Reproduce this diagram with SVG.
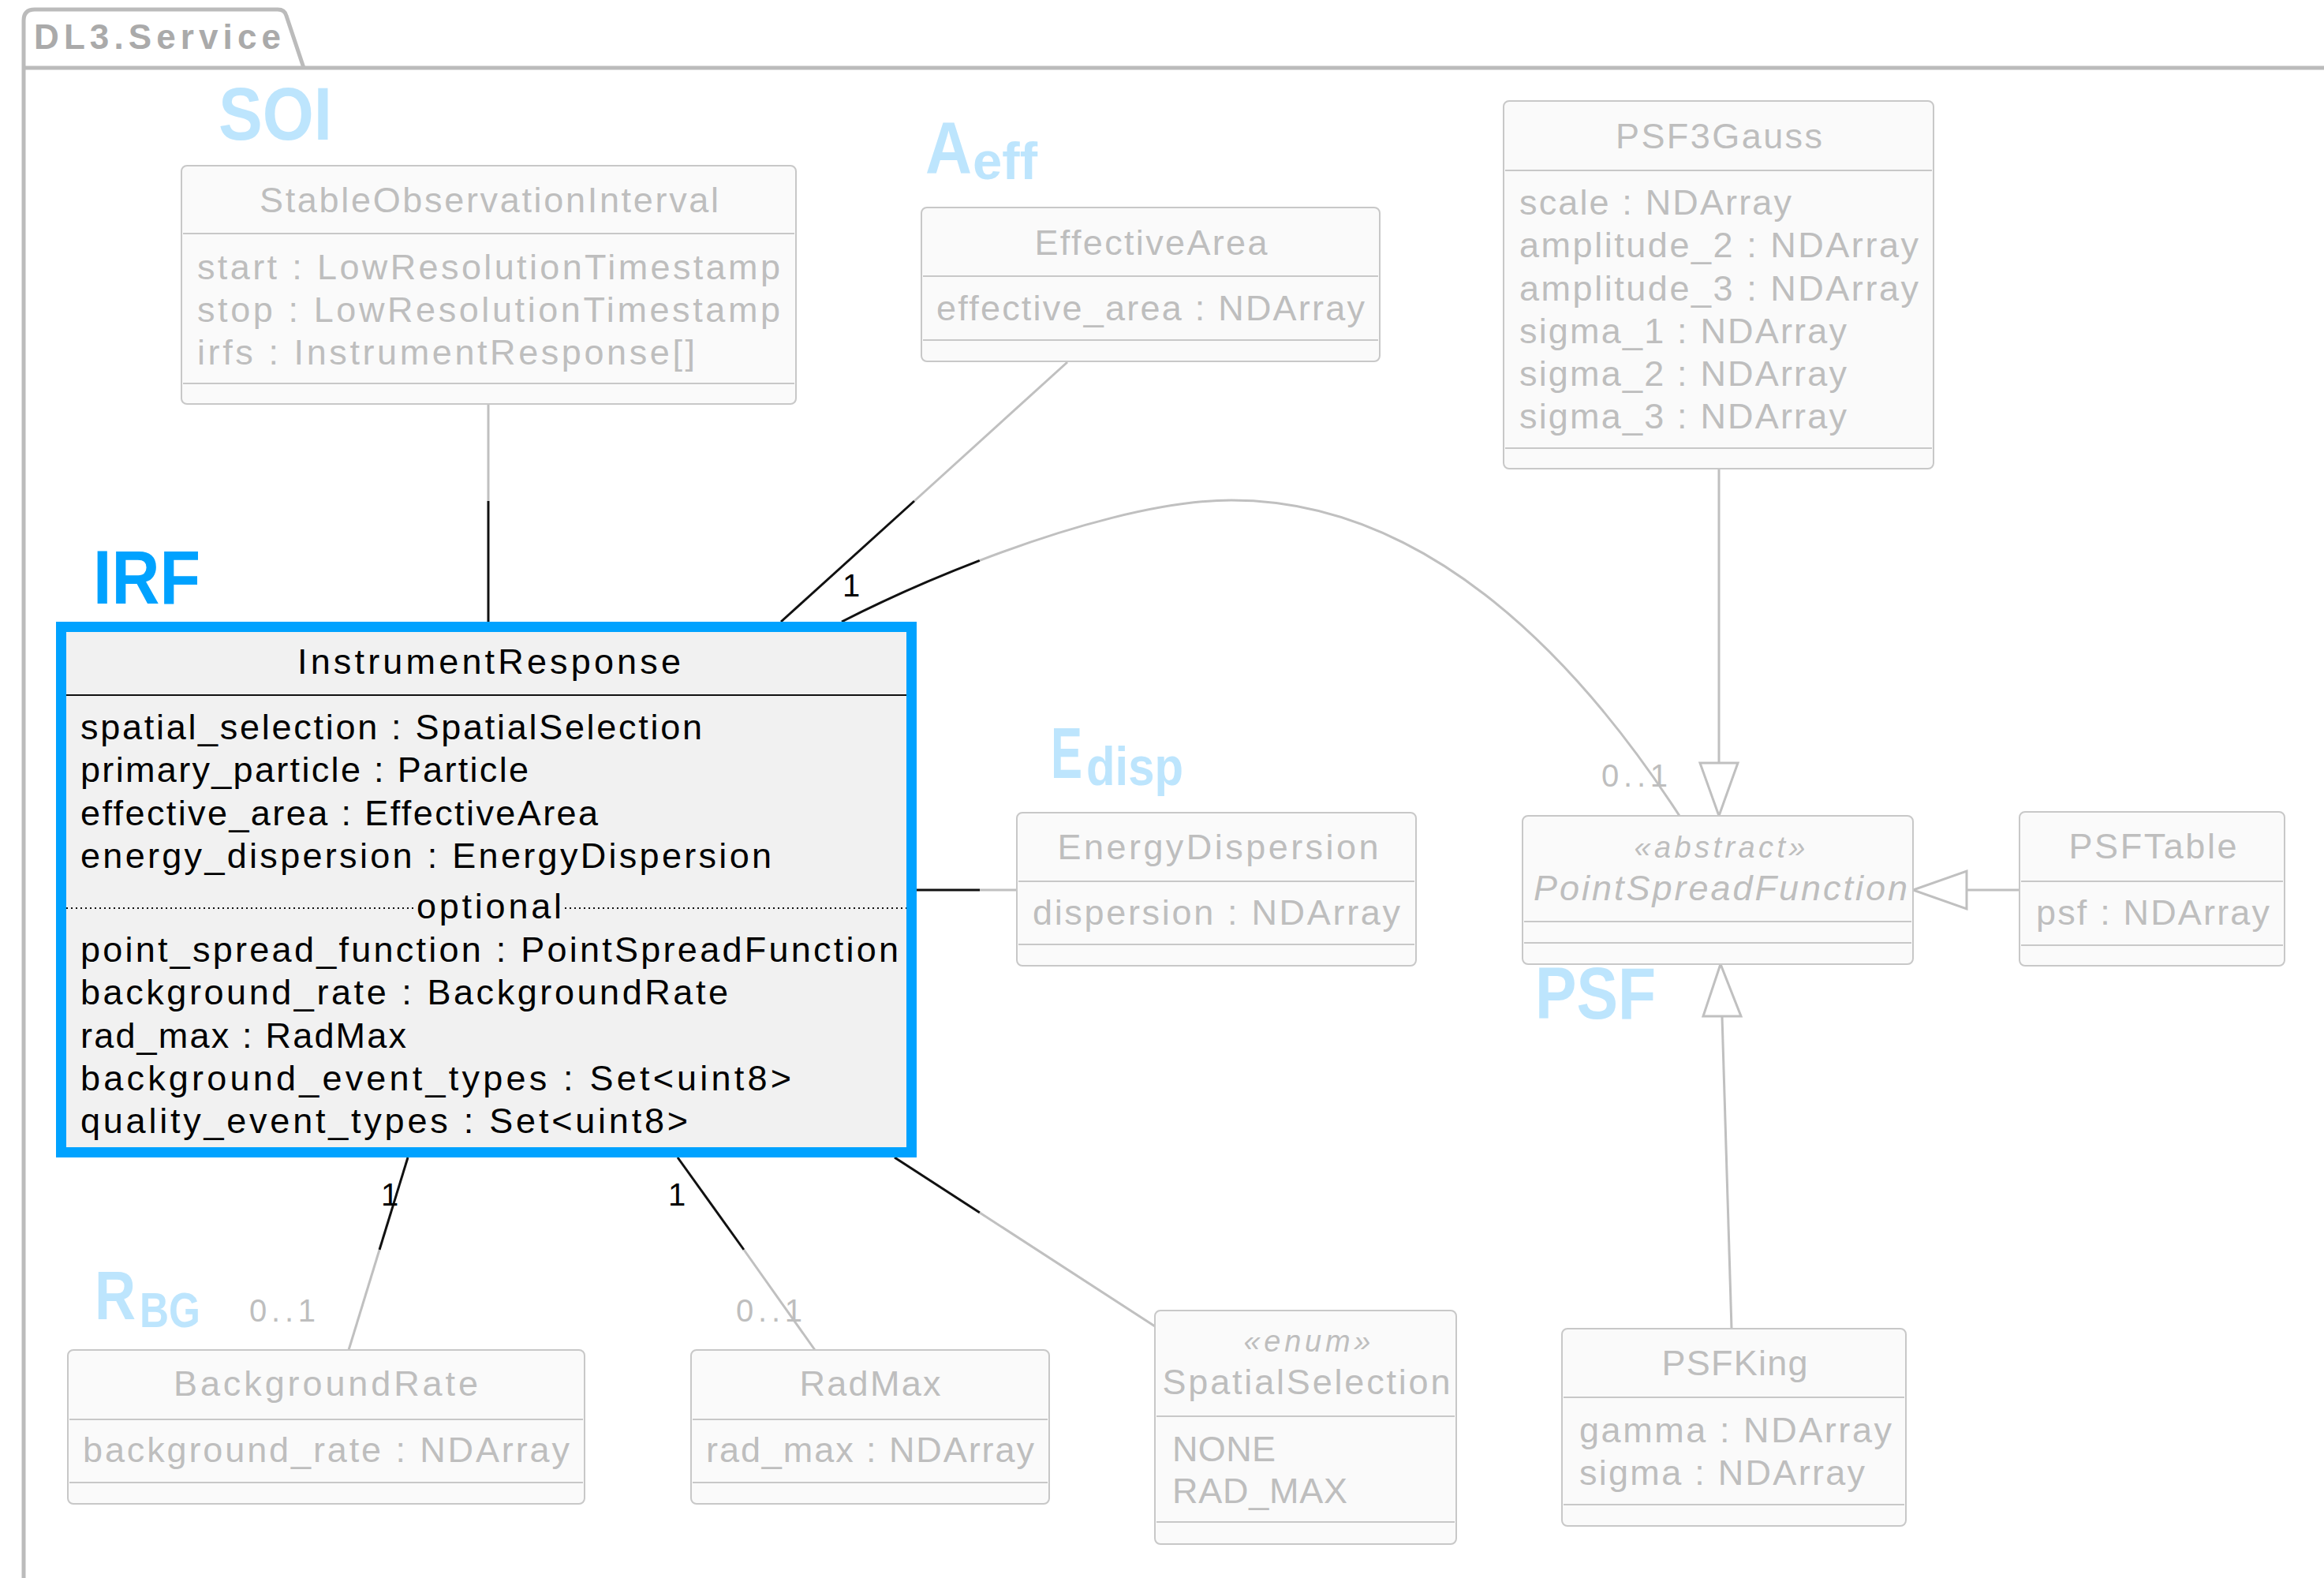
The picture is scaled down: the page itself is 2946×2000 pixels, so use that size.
<svg xmlns="http://www.w3.org/2000/svg" width="2946" height="2000" viewBox="0 0 2946 2000">
  <style>
    .box { fill: #FAFAFA; stroke: #C8C8C8; stroke-width: 2; }
    .sep { stroke: #C8C8C8; stroke-width: 2; }
    .t { font-family: "Liberation Sans", Arial, Helvetica, sans-serif; font-size: 45px; fill: #BEBEBE; }
    .c { text-anchor: middle; }
    .it { font-style: italic; }
    .st { font-size: 38px; }
    .dark { fill: #000000; }
    .lbl { font-family: "Liberation Sans", Arial, Helvetica, sans-serif; font-weight: bold; fill: #BDE5FD; }
    .lblIrf { fill: #00A2FF; }
    .conn { fill: none; stroke: #C0C0C0; stroke-width: 3; }
    .conn-k { fill: none; stroke: #111111; stroke-width: 3; }
    .head { fill: #FFFFFF; stroke: #C0C0C0; stroke-width: 3; stroke-linejoin: miter; }
    .mult { font-family: "Liberation Sans", Arial, Helvetica, sans-serif; font-size: 40px; fill: #BEBEBE; }
    .mult-k { fill: #000000; }
  </style>

  <rect width="2946" height="2000" fill="#FFFFFF"/>

  <!-- package frame DL3.Service -->
  <g id="package">
    <path d="M30,2010 V26 Q30,12 44,12 H352 Q361,12 363,20 L385,86" fill="none" stroke="#BBBBBB" stroke-width="5"/>
    <line x1="30" y1="86" x2="2950" y2="86" stroke="#BBBBBB" stroke-width="5"/>
    <text x="43" y="62" font-family="Liberation Sans, Arial, sans-serif" font-weight="bold" font-size="44" fill="#AAAAAA" textLength="313">DL3.Service</text>
  </g>

  <!-- group labels: condensed capitals drawn with a horizontal scale -->
  <g id="labels">
    <text class="lbl" x="277" y="177" font-size="95" textLength="144" lengthAdjust="spacingAndGlyphs">SOI</text>
    <text class="lbl" transform="translate(1173,219) scale(0.879,1)" font-size="93">A</text>
    <text class="lbl" x="1233" y="227" font-size="66" textLength="82" lengthAdjust="spacingAndGlyphs">eff</text>
    <text class="lbl lblIrf" x="118" y="765" font-size="97" textLength="136" lengthAdjust="spacingAndGlyphs">IRF</text>
    <text class="lbl" transform="translate(1332,986) scale(0.659,1)" font-size="91">E</text>
    <text class="lbl" x="1377" y="995" font-size="68" textLength="123" lengthAdjust="spacingAndGlyphs">disp</text>
    <text class="lbl" x="1946" y="1291" font-size="92" textLength="153" lengthAdjust="spacingAndGlyphs">PSF</text>
    <text class="lbl" transform="translate(120,1672) scale(0.819,1)" font-size="88">R</text>
    <text class="lbl" x="177" y="1682" font-size="63" textLength="77" lengthAdjust="spacingAndGlyphs">BG</text>
  </g>

  <!-- connectors -->
  <g id="connectors">
    <!-- SOI - IRF -->
    <line class="conn" x1="619" y1="512" x2="619" y2="635"/>
    <line class="conn-k" x1="619" y1="635" x2="619" y2="788"/>
    <!-- EffectiveArea - IRF -->
    <line class="conn" x1="1353" y1="459" x2="1159" y2="635"/>
    <line class="conn-k" x1="1159" y1="635" x2="990" y2="788"/>
    <!-- PointSpreadFunction - IRF -->
    <path class="conn-k" d="M1067,788 C1116.2,762.8 1177.3,735.2 1241.9,710.4"/>
    <path class="conn" d="M1241.9,710.4 C1352,668.1 1472.2,634 1561,634 C1800,634 1990,820 2129,1034"/>
    <!-- EnergyDispersion - IRF -->
    <line class="conn-k" x1="1162" y1="1128" x2="1242" y2="1128"/>
    <line class="conn" x1="1242" y1="1128" x2="1289" y2="1128"/>
    <!-- BackgroundRate - IRF -->
    <line class="conn-k" x1="517" y1="1467" x2="481" y2="1584"/>
    <line class="conn" x1="481" y1="1584" x2="442" y2="1711"/>
    <!-- RadMax - IRF -->
    <line class="conn-k" x1="859" y1="1467" x2="943" y2="1584"/>
    <line class="conn" x1="943" y1="1584" x2="1033" y2="1711"/>
    <!-- SpatialSelection - IRF -->
    <line class="conn-k" x1="1134" y1="1467" x2="1242" y2="1537"/>
    <line class="conn" x1="1242" y1="1537" x2="1464" y2="1681"/>
    <!-- generalisations to PointSpreadFunction -->
    <line class="conn" x1="2179" y1="594" x2="2179" y2="967"/>
    <polygon class="head" points="2155,967 2203,967 2179,1034"/>
    <line class="conn" x1="2560" y1="1128" x2="2493" y2="1128"/>
    <polygon class="head" points="2493,1104 2493,1152 2425,1128"/>
    <line class="conn" x1="2195" y1="1684" x2="2183" y2="1288"/>
    <polygon class="head" points="2159,1288 2207,1288 2181,1222"/>
    <!-- multiplicities -->
    <text class="mult mult-k" x="1068" y="756">1</text>
    <text class="mult mult-k" x="483" y="1528">1</text>
    <text class="mult mult-k" x="847" y="1528">1</text>
    <text class="mult" x="316" y="1675" textLength="84">0..1</text>
    <text class="mult" x="933" y="1675" textLength="84">0..1</text>
    <text class="mult" x="2030" y="997" textLength="84">0..1</text>
  </g>

  <!-- StableObservationInterval -->
  <g id="StableObservationInterval">
    <rect class="box" x="230" y="210" width="779" height="302" rx="7"/>
    <line class="sep" x1="232" y1="296" x2="1007" y2="296"/>
    <line class="sep" x1="232" y1="486" x2="1007" y2="486"/>
    <text class="t c" x="620" y="269" textLength="582">StableObservationInterval</text>
    <text class="t" x="250" y="354" textLength="739">start : LowResolutionTimestamp</text>
    <text class="t" x="250" y="408" textLength="739">stop : LowResolutionTimestamp</text>
    <text class="t" x="250" y="462" textLength="631">irfs : InstrumentResponse[]</text>
  </g>

  <!-- EffectiveArea -->
  <g id="EffectiveArea">
    <rect class="box" x="1168" y="263" width="581" height="195" rx="7"/>
    <line class="sep" x1="1170" y1="350" x2="1747" y2="350"/>
    <line class="sep" x1="1170" y1="431" x2="1747" y2="431"/>
    <text class="t c" x="1459" y="323" textLength="295">EffectiveArea</text>
    <text class="t" x="1187" y="406" textLength="543">effective_area : NDArray</text>
  </g>

  <!-- PSF3Gauss -->
  <g id="PSF3Gauss">
    <rect class="box" x="1906" y="128" width="545" height="466" rx="7"/>
    <line class="sep" x1="1908" y1="216" x2="2449" y2="216"/>
    <line class="sep" x1="1908" y1="568" x2="2449" y2="568"/>
    <text class="t c" x="2179" y="188" textLength="262">PSF3Gauss</text>
    <text class="t" x="1926" y="272" textLength="345">scale : NDArray</text>
    <text class="t" x="1926" y="326" textLength="506">amplitude_2 : NDArray</text>
    <text class="t" x="1926" y="381" textLength="506">amplitude_3 : NDArray</text>
    <text class="t" x="1926" y="435" textLength="415">sigma_1 : NDArray</text>
    <text class="t" x="1926" y="489" textLength="415">sigma_2 : NDArray</text>
    <text class="t" x="1926" y="543" textLength="415">sigma_3 : NDArray</text>
  </g>

  <!-- InstrumentResponse -->
  <g id="InstrumentResponse">
    <rect x="77.5" y="794.5" width="1078" height="666" fill="#F1F1F1" stroke="#00A2FF" stroke-width="13"/>
    <line x1="84" y1="881" x2="1149" y2="881" stroke="#111111" stroke-width="2"/>
    <line x1="84" y1="1151" x2="524" y2="1151" stroke="#111111" stroke-width="2" stroke-dasharray="2 4"/>
    <line x1="716" y1="1151" x2="1149" y2="1151" stroke="#111111" stroke-width="2" stroke-dasharray="2 4"/>
    <text class="t c dark" x="620" y="854" textLength="486">InstrumentResponse</text>
    <text class="t dark" x="102" y="937" textLength="788">spatial_selection : SpatialSelection</text>
    <text class="t dark" x="102" y="991" textLength="568">primary_particle : Particle</text>
    <text class="t dark" x="102" y="1046" textLength="656">effective_area : EffectiveArea</text>
    <text class="t dark" x="102" y="1100" textLength="876">energy_dispersion : EnergyDispersion</text>
    <text class="t c dark" x="620" y="1164" textLength="184">optional</text>
    <text class="t dark" x="102" y="1219" textLength="1037">point_spread_function : PointSpreadFunction</text>
    <text class="t dark" x="102" y="1273" textLength="821">background_rate : BackgroundRate</text>
    <text class="t dark" x="102" y="1328" textLength="413">rad_max : RadMax</text>
    <text class="t dark" x="102" y="1382" textLength="901">background_event_types : Set&lt;uint8&gt;</text>
    <text class="t dark" x="102" y="1436" textLength="770">quality_event_types : Set&lt;uint8&gt;</text>
  </g>

  <!-- EnergyDispersion -->
  <g id="EnergyDispersion">
    <rect class="box" x="1289" y="1030" width="506" height="194" rx="7"/>
    <line class="sep" x1="1291" y1="1117" x2="1793" y2="1117"/>
    <line class="sep" x1="1291" y1="1197" x2="1793" y2="1197"/>
    <text class="t c" x="1544" y="1089" textLength="407">EnergyDispersion</text>
    <text class="t" x="1309" y="1172" textLength="466">dispersion : NDArray</text>
  </g>

  <!-- PointSpreadFunction (abstract) -->
  <g id="PointSpreadFunction">
    <rect class="box" x="1930" y="1034" width="495" height="188" rx="7"/>
    <line class="sep" x1="1932" y1="1168" x2="2423" y2="1168"/>
    <line class="sep" x1="1932" y1="1195" x2="2423" y2="1195"/>
    <text class="t c it st" x="2180" y="1087" textLength="217">«abstract»</text>
    <text class="t c it" x="2181" y="1141" textLength="474">PointSpreadFunction</text>
  </g>

  <!-- PSFTable -->
  <g id="PSFTable">
    <rect class="box" x="2560" y="1029" width="336" height="195" rx="7"/>
    <line class="sep" x1="2562" y1="1117" x2="2894" y2="1117"/>
    <line class="sep" x1="2562" y1="1198" x2="2894" y2="1198"/>
    <text class="t c" x="2729" y="1088" textLength="213">PSFTable</text>
    <text class="t" x="2581" y="1172" textLength="296">psf : NDArray</text>
  </g>

  <!-- BackgroundRate -->
  <g id="BackgroundRate">
    <rect class="box" x="86" y="1711" width="655" height="195" rx="7"/>
    <line class="sep" x1="88" y1="1799" x2="739" y2="1799"/>
    <line class="sep" x1="88" y1="1879" x2="739" y2="1879"/>
    <text class="t c" x="413" y="1769" textLength="386">BackgroundRate</text>
    <text class="t" x="105" y="1853" textLength="617">background_rate : NDArray</text>
  </g>

  <!-- RadMax -->
  <g id="RadMax">
    <rect class="box" x="876" y="1711" width="454" height="195" rx="7"/>
    <line class="sep" x1="878" y1="1799" x2="1328" y2="1799"/>
    <line class="sep" x1="878" y1="1879" x2="1328" y2="1879"/>
    <text class="t c" x="1103" y="1769" textLength="179">RadMax</text>
    <text class="t" x="895" y="1853" textLength="416">rad_max : NDArray</text>
  </g>

  <!-- SpatialSelection (enum) -->
  <g id="SpatialSelection">
    <rect class="box" x="1464" y="1661" width="382" height="296" rx="7"/>
    <line class="sep" x1="1466" y1="1795" x2="1844" y2="1795"/>
    <line class="sep" x1="1466" y1="1929" x2="1844" y2="1929"/>
    <text class="t c it st" x="1657" y="1713" textLength="161">«enum»</text>
    <text class="t c" x="1656" y="1767" textLength="365">SpatialSelection</text>
    <text class="t" x="1486" y="1852" textLength="131">NONE</text>
    <text class="t" x="1486" y="1905" textLength="222">RAD_MAX</text>
  </g>

  <!-- PSFKing -->
  <g id="PSFKing">
    <rect class="box" x="1980" y="1684" width="436" height="250" rx="7"/>
    <line class="sep" x1="1982" y1="1771" x2="2414" y2="1771"/>
    <line class="sep" x1="1982" y1="1907" x2="2414" y2="1907"/>
    <text class="t c" x="2199" y="1743" textLength="185">PSFKing</text>
    <text class="t" x="2002" y="1828" textLength="396">gamma : NDArray</text>
    <text class="t" x="2002" y="1882" textLength="362">sigma : NDArray</text>
  </g>
</svg>
